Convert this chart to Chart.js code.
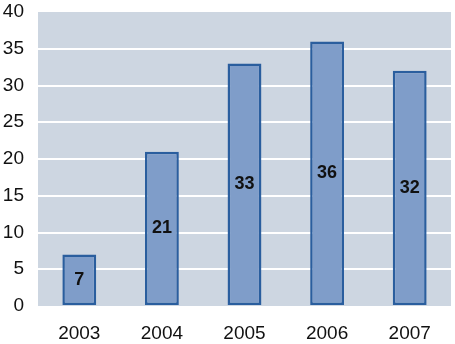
<!DOCTYPE html>
<html>
<head>
<meta charset="utf-8">
<script src="https://cdn.jsdelivr.net/npm/chart.js@4/dist/chart.umd.min.js"></script>
<style>
  html, body { margin: 0; padding: 0; background: #fff; }
  #wrap { width: 455px; height: 344px; }
</style>
</head>
<body>
<div id="wrap"><canvas id="chart"></canvas></div>
<script>
const years = ['2003', '2004', '2005', '2006', '2007'];
const counts = [7, 21, 33, 36, 32];
const yTicks = [0, 5, 10, 15, 20, 25, 30, 35, 40];

// light grey-blue plot background
const plotBg = {
  id: 'plotBg',
  beforeDraw(chart) {
    const { ctx, chartArea: a } = chart;
    ctx.save();
    ctx.fillStyle = '#cdd6e1';
    ctx.fillRect(a.left, a.top, a.right - a.left, a.bottom - a.top);
    ctx.restore();
  },
};

// value written in the middle of each bar
const barValues = {
  id: 'barValues',
  afterDatasetsDraw(chart) {
    const { ctx } = chart;
    const meta = chart.getDatasetMeta(0);
    ctx.save();
    ctx.font = 'bold 18px "Liberation Sans", Arial, sans-serif';
    ctx.fillStyle = '#111';
    ctx.textAlign = 'center';
    ctx.textBaseline = 'middle';
    meta.data.forEach((bar, i) => {
      ctx.fillText(String(counts[i]), bar.x, (bar.y + bar.base) / 2);
    });
    ctx.restore();
  },
};

new Chart(document.getElementById('chart'), {
  type: 'bar',
  data: {
    labels: years,
    datasets: [{
      data: counts,
      backgroundColor: '#7f9dc9',
      borderColor: '#2a5e9e',
      borderWidth: 2.5,
      borderSkipped: false,
      barPercentage: 0.41,
      categoryPercentage: 1,
    }],
  },
  options: {
    responsive: true,
    maintainAspectRatio: false,
    animation: false,
    layout: { padding: { top: 12, right: 4, left: 0, bottom: 0 } },
    plugins: { legend: { display: false }, tooltip: { enabled: false } },
    scales: {
      x: {
        grid: { display: false },
        border: { display: false },
        ticks: {
          color: '#111',
          font: { family: '"Liberation Sans", Arial, sans-serif', size: 19 },
          padding: 8,
        },
        afterFit(scale) { scale.height = 38; },
      },
      y: {
        min: 0,
        max: 40,
        afterBuildTicks(scale) { scale.ticks = yTicks.map(v => ({ value: v })); },
        grid: {
          drawTicks: false,
          lineWidth: 2,
          color: c => (c.tick && (c.tick.value === 0 || c.tick.value === 40) ? 'rgba(0,0,0,0)' : '#ffffff'),
        },
        border: { display: false },
        ticks: {
          color: '#111',
          font: { family: '"Liberation Sans", Arial, sans-serif', size: 19 },
          padding: 14,
        },
        afterFit(scale) {
          scale.width = 38;
          scale.paddingTop = 0;
          scale.paddingBottom = 0;
        },
      },
    },
  },
  plugins: [plotBg, barValues],
});
</script>
</body>
</html>
